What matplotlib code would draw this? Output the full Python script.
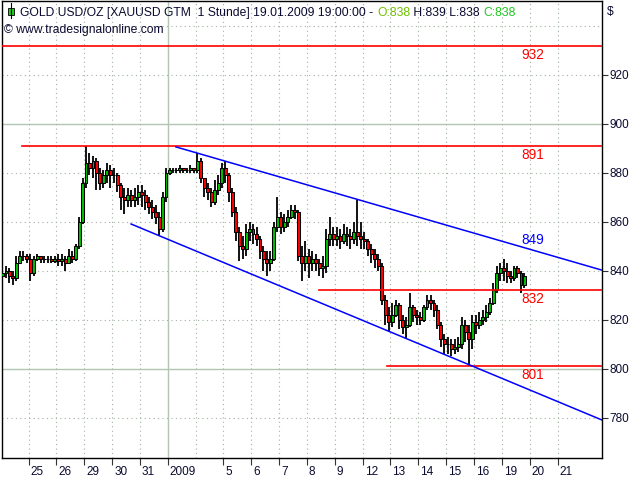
import numpy as np
import matplotlib
matplotlib.use("Agg")
import matplotlib.pyplot as plt
from matplotlib.patches import Rectangle
from matplotlib.lines import Line2D
from matplotlib.transforms import ScaledTranslation

plt.rcParams['font.family'] = ['Liberation Sans', 'DejaVu Sans']

W, H = 640, 480
NAVY = '#0a0a30'

# ============================================================
# Data (3-hour bars, day slot 0 = 24 Dec 2008)
# ============================================================

session_day = list(range(19))
open_first = 838

close = [
    839, 840, 838, 837, 843, 846, 846, 845,   # 24 Dec
    839, 845, 846, 845, 845, 845, 844, 845,   # 25 Dec
    844, 845, 843, 846, 845, 850, 860, 876,   # 26 Dec
    884, 882, 885, 880, 876, 879, 881, 879,   # 29 Dec
    879, 875, 870, 869, 871, 869, 870, 872,   # 30 Dec
    871, 868, 866, 864, 862, 857, 870, 880,   # 31 Dec
    881, 881, 881, 882, 881, 881, 882, 881,   # 1 Jan
    885, 878, 874, 872, 868, 873, 876, 882,   # 2 Jan
    879, 872, 864, 856, 850, 849, 856, 857,   # 5 Jan
    855, 853, 848, 845, 843, 845, 858, 862,   # 6 Jan
    858, 860, 862, 865, 864, 846, 843, 846,   # 7 Jan
    843, 845, 843, 841, 842, 853, 855, 853,   # 8 Jan
    854, 852, 855, 854, 853, 856, 854, 853,   # 9 Jan
    852, 849, 847, 845, 842, 828, 822, 819,   # 12 Jan
    822, 826, 820, 817, 818, 825, 822, 821,   # 13 Jan
    820, 825, 828, 827, 824, 818, 812, 810,   # 14 Jan
    810, 808, 809, 810, 818, 815, 812, 819,   # 15 Jan
    818, 820, 821, 823, 827, 832, 839, 841,   # 16 Jan
    840, 838, 837, 841, 839, 834, 838,        # 19 Jan
]
high = [
    841, 842, 841, 840, 846, 848, 848, 847,
    847, 846, 847, 846, 846, 846, 846, 846,
    847, 847, 846, 849, 848, 851, 862, 878,
    891, 888, 887, 886, 882, 881, 884, 883,
    882, 880, 876, 874, 874, 873, 874, 875,
    875, 873, 870, 869, 867, 864, 872, 882,
    882, 882, 882, 883, 882, 882, 883, 882,
    888, 886, 878, 876, 874, 877, 879, 884,
    885, 880, 874, 866, 858, 854, 859, 860,
    859, 858, 854, 850, 848, 848, 860, 870,
    864, 863, 865, 867, 867, 865, 850, 852,
    849, 848, 847, 845, 846, 857, 862, 858,
    858, 857, 859, 858, 857, 860, 869, 860,
    856, 853, 851, 849, 847, 843, 830, 825,
    827, 828, 827, 822, 821, 831, 826, 824,
    823, 826, 830, 830, 828, 826, 819, 814,
    813, 812, 812, 813, 821, 820, 818, 822,
    822, 823, 824, 826, 829, 835, 842, 843,
    845, 843, 840, 842, 842, 840, 839,
]
low = [
    836, 837, 835, 834, 836, 843, 844, 843,
    836, 838, 844, 843, 843, 843, 843, 843,
    842, 842, 840, 843, 843, 844, 849, 859,
    874, 879, 878, 873, 873, 874, 876, 874,
    876, 872, 865, 863, 866, 866, 866, 867,
    866, 865, 863, 861, 859, 854, 856, 868,
    879, 880, 880, 880, 880, 880, 880, 880,
    880, 876, 870, 869, 866, 867, 871, 874,
    876, 868, 862, 852, 844, 845, 846, 852,
    851, 850, 845, 840, 838, 840, 844, 856,
    855, 856, 858, 861, 861, 844, 836, 840,
    837, 840, 840, 838, 837, 839, 850, 850,
    850, 849, 851, 850, 849, 851, 850, 849,
    849, 846, 843, 841, 840, 826, 818, 815,
    817, 821, 816, 814, 812, 817, 819, 818,
    818, 819, 824, 824, 821, 816, 809, 806,
    806, 805, 806, 807, 808, 811, 801, 808,
    814, 816, 818, 819, 822, 826, 831, 836,
    836, 835, 835, 836, 837, 831, 833,
]

# x-axis day labels (slot 7 = 2 Jan has a grid line but no label)
label_days = [1, 2, 3, 4, 5, 6, 8, 9, 10, 11, 12, 13, 14, 15, 16, 17, 18, 19, 20]
day_labels = ["25", "26", "29", "30", "31", "2009", "5", "6", "7", "8", "9",
              "12", "13", "14", "15", "16", "19", "20", "21"]
grid_days = [1, 2, 3, 4, 5, 7, 8, 9, 10, 11, 12, 13, 14, 15, 16, 17, 18, 19, 20]
year_day = 6

# horizontal support / resistance levels
levels = [932, 891, 832, 801]
level_start = [0.0, 0.75, 11.43, 13.87]

# trend channel
upper_x = [6.29, 21.58]
upper_y = [890.6, 840.3]
lower_x = [4.68, 21.58]
lower_y = [859.1, 779.1]
upper_label = "849"

y_ticks = [780, 800, 820, 840, 860, 880, 900, 920]
grid_minor_y = [940, 920, 880, 860, 840, 820, 780]
grid_major_y = [900, 800]

# ============================================================
# Figure
# ============================================================

fig = plt.figure(figsize=(6.4, 4.8), dpi=100)
ax = fig.add_axes([2 / W, 1 - 458 / H, 599.5 / W, 457 / H])
ax.set_xlim(0.045, 21.58)
ax.set_ylim(763.5, 950.2)

# grid
for y in grid_minor_y:
    ax.axhline(y, color='#a0b2a0', lw=0.8, ls=(0, (1, 3)), zorder=1)
for y in grid_major_y:
    ax.axhline(y, color='#b2c6b2', lw=1.0, zorder=1)
for d in grid_days:
    ax.axvline(d, color='#a0b2a0', lw=0.8, ls=(0, (1, 3)), zorder=1)
ax.axvline(year_day, color='#b2c6b2', lw=1.0, zorder=1)

# candles
n = len(close)
t = np.array([session_day[i // 8] + (3 * (i % 8) + 1.5) / 24 for i in range(n)])
c = np.array(close, dtype=float)
o = np.concatenate([[open_first], c[:-1]])
hi = np.array(high, dtype=float)
lo = np.array(low, dtype=float)

ax.vlines(t, lo, hi, colors='black', linewidth=1.3, zorder=3)
body_col = ['#00c000' if cc >= oo else '#ff0000' for oo, cc in zip(o, c)]
ax.bar(t, np.abs(c - o), bottom=np.minimum(o, c), width=0.105,
       color=body_col, edgecolor='black', linewidth=0.75, zorder=4)

# levels
for lv, xs in zip(levels, level_start):
    ax.plot([xs, 21.58], [lv, lv], color='#ff0000', lw=1.2, zorder=5)

# channel
ax.plot(upper_x, upper_y, color='#0000ff', lw=1.1, zorder=5)
ax.plot(lower_x, lower_y, color='#0000ff', lw=1.1, zorder=5)

# labels on the lines
lab_x = 19.12
for lv in levels:
    ax.annotate(str(lv), (lab_x, lv), xytext=(0, -6.5), textcoords='offset points',
                ha='center', va='center', color='#ff0000', fontsize=9.8, zorder=6)
uy = np.interp(lab_x, upper_x, upper_y)
ax.annotate(upper_label, (lab_x, uy), xytext=(0, 7.5), textcoords='offset points',
            ha='center', va='center', color='#0000ff', fontsize=9.8, zorder=6)

# axes styling
for sp in ax.spines.values():
    sp.set_color('black')
    sp.set_linewidth(1.0)

ax.yaxis.tick_right()
ax.set_yticks(y_ticks)
ax.set_yticklabels([str(v) for v in y_ticks])
ax.tick_params(axis='y', direction='out', length=4, width=0.8, pad=2,
               labelsize=8.5, labelcolor=NAVY, color='#333333')

ax.set_xticks(label_days)
ax.set_xticklabels(day_labels)
ax.tick_params(axis='x', direction='out', length=5, width=0.8, pad=1,
               labelsize=8.5, labelcolor=NAVY, color='#333333')
shift = ScaledTranslation(2 / 100, 0, fig.dpi_scale_trans)
for lbl in ax.get_xticklabels():
    lbl.set_ha('left')
    lbl.set_transform(lbl.get_transform() + shift)

# ============================================================
# Header texts
# ============================================================

renderer = fig.canvas.get_renderer()
segments = [
    ("GOLD USD/OZ [XAUUSD GTM  1 Stunde] 19.01.2009 19:00:00 - ", NAVY),
    ("O:838", '#70c000'),
    (" H:839 L:838 ", NAVY),
    ("C:838", '#20c820'),
]
FS = 8.7


def text_width(s):
    tmp = fig.text(0, 0, s + ".", fontsize=FS)
    w1 = tmp.get_window_extent(renderer).width
    tmp.remove()
    tmp = fig.text(0, 0, ".", fontsize=FS)
    w2 = tmp.get_window_extent(renderer).width
    tmp.remove()
    return w1 - w2


x0 = 20.5
prefix = ""
for s, col in segments:
    xo = x0 + (text_width(prefix) if prefix else 0)
    fig.text(xo / W, 1 - 15.7 / H, s, color=col, fontsize=FS,
             ha='left', va='baseline')
    prefix += s

fig.text(3.5 / W, 1 - 32.5 / H, "\u00a9 www.tradesignalonline.com", color=NAVY,
         fontsize=FS, ha='left', va='baseline')
fig.text(607 / W, 1 - 15 / H, "$", color=NAVY, fontsize=FS, ha='left', va='baseline')

# candle icon
fig.add_artist(Line2D([10.7 / W, 10.7 / W], [1 - 3 / H, 1 - 18 / H],
                      color='black', lw=0.8, transform=fig.transFigure))
fig.add_artist(Rectangle((7.5 / W, 1 - 15 / H), 6.5 / W, 7.5 / H,
                         facecolor='#20c820', edgecolor='black', lw=0.6,
                         transform=fig.transFigure))

fig.savefig("out.png", dpi=100)
